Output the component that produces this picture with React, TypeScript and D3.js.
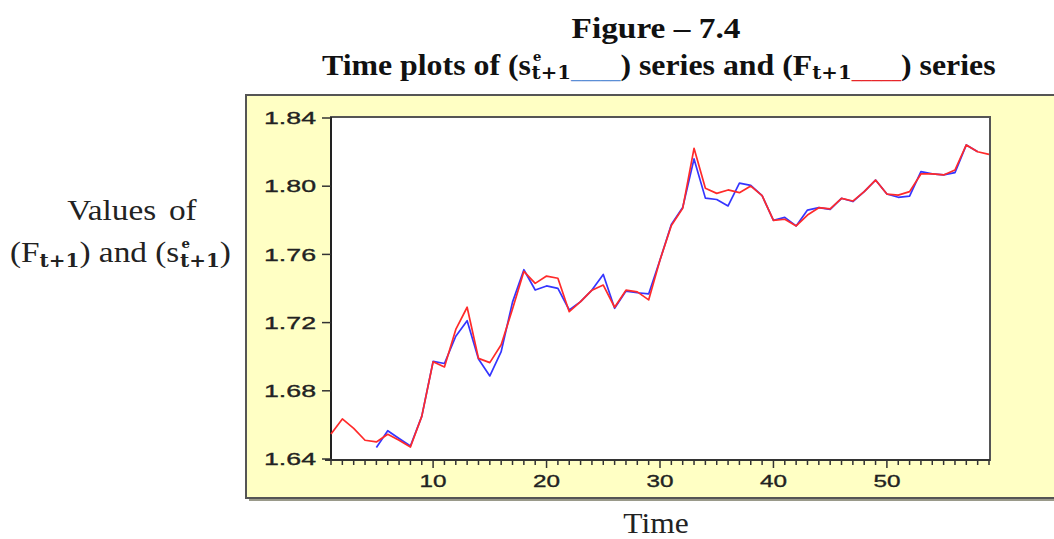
import React from "react";
import * as d3 from "d3";

const obs: number[] = d3.range(1, 60);
const forwardF: number[] = [
  1.6547, 1.6635, 1.658, 1.651, 1.65, 1.6545, 1.651, 1.647, 1.665, 1.697,
  1.694, 1.716, 1.729, 1.699, 1.6965, 1.707, 1.728, 1.75, 1.743, 1.7473,
  1.746, 1.7264, 1.7323, 1.739, 1.742, 1.729, 1.739, 1.738, 1.7333, 1.7567,
  1.777, 1.787, 1.8222, 1.7988, 1.7958, 1.7978, 1.7962, 1.8001, 1.7945, 1.78,
  1.7806, 1.7767, 1.7831, 1.7874, 1.7867, 1.7929, 1.7913, 1.7968, 1.8036, 1.7954,
  1.7948, 1.7968, 1.8072, 1.8072, 1.8066, 1.8095, 1.8242, 1.8202, 1.8187,
];
const spotStart = 5;
const spotS: number[] = [
  1.6467, 1.6566, 1.652, 1.6476, 1.665, 1.6973, 1.696, 1.712, 1.7211, 1.6987,
  1.6887, 1.703, 1.732, 1.751, 1.7391, 1.7415, 1.7401, 1.7274, 1.7323, 1.7391,
  1.7482, 1.7284, 1.7385, 1.7375, 1.7368, 1.7567, 1.7776, 1.7875, 1.816, 1.793,
  1.7922, 1.7884, 1.8018, 1.8005, 1.7945, 1.78, 1.7817, 1.7767, 1.786, 1.7874,
  1.7864, 1.7929, 1.791, 1.7968, 1.8036, 1.7954, 1.7935, 1.7942, 1.8085, 1.8072,
  1.8066, 1.808, 1.8242, 1.8202,
];
const yTicks: number[] = [1.64, 1.68, 1.72, 1.76, 1.8, 1.84];
const xMajorTicks: number[] = [10, 20, 30, 40, 50];

const W = 1054;
const H = 539;
const plot = { left: 331, right: 989, top: 118, bottom: 459 };

const stretch = (cx: number, s: number) => `translate(${cx},0) scale(${s},1) translate(${-cx},0)`;

export default function App() {
  const x = d3.scaleLinear().domain([1, 59]).range([plot.left, plot.right]);
  const y = d3.scaleLinear().domain([1.64, 1.84]).range([plot.bottom, plot.top]);

  const line = d3
    .line<[number, number]>()
    .x((d) => x(d[0]))
    .y((d) => y(d[1]));

  const redPts: [number, number][] = forwardF.map((v, i) => [obs[i], v]);
  const bluePts: [number, number][] = spotS.map((v, i) => [spotStart + i, v]);

  const serif = "'Liberation Serif', 'Times New Roman', serif";
  const subFont = "'DejaVu Serif', serif";
  const sans = "'Liberation Sans', Arial, sans-serif";

  return (
    <svg
      width={W}
      height={H}
      style={{ position: "absolute", left: 0, top: 0, background: "#fff" }}
    >
      {/* yellow panel with shadow */}
      <rect x={249} y={98} width={900} height={403} fill="#9a9a8a" />
      <rect x={246} y={95} width={900} height={403} fill="#FFFFC4" stroke="#555" strokeWidth={2} />

      {/* plot area */}
      <rect
        x={plot.left}
        y={plot.top - 1}
        width={plot.right - plot.left + 1}
        height={plot.bottom - plot.top + 2}
        fill="#fff"
        stroke="#555"
        strokeWidth={2}
      />
      <line x1={plot.left} x2={plot.left} y1={plot.top - 1} y2={plot.bottom + 1} stroke="#222" strokeWidth={2} />
      <line x1={plot.left - 6} x2={plot.right + 1} y1={plot.bottom + 1} y2={plot.bottom + 1} stroke="#333" strokeWidth={2} />

      {/* y ticks */}
      {yTicks.map((t) => (
        <g key={t}>
          <line x1={plot.left - 9} x2={plot.left} y1={y(t)} y2={y(t)} stroke="#333" strokeWidth={1.5} />
          <text
            x={316}
            y={y(t)}
            dy="0.36em"
            textAnchor="end"
            fontFamily={sans}
            fontSize={17}
            fill="#222"
            stroke="#222"
            strokeWidth={0.35}
            textLength={52}
            lengthAdjust="spacingAndGlyphs"
          >
            {t.toFixed(2)}
          </text>
        </g>
      ))}

      {/* x ticks */}
      {obs.map((o) => (
        <line
          key={o}
          x1={x(o)}
          x2={x(o)}
          y1={plot.bottom + 1}
          y2={plot.bottom + (xMajorTicks.includes(o) ? 9 : 6)}
          stroke="#333"
          strokeWidth={1.5}
        />
      ))}
      {xMajorTicks.map((t) => (
        <text
          key={t}
          x={x(t)}
          y={487}
          textAnchor="middle"
          fontFamily={sans}
          fontSize={17}
          fill="#222"
          stroke="#222"
          strokeWidth={0.35}
          textLength={27}
          lengthAdjust="spacingAndGlyphs"
        >
          {t}
        </text>
      ))}

      {/* series */}
      <path d={line(bluePts) || ""} fill="none" stroke="#3535ff" strokeWidth={1.7} strokeLinejoin="round" />
      <path d={line(redPts) || ""} fill="none" stroke="#ff2a2a" strokeWidth={1.7} strokeLinejoin="round" />

      {/* titles */}
      <g transform={stretch(656, 1.15)}>
        <text x={656} y={38} textAnchor="middle" fontFamily={serif} fontWeight="bold" fontSize={29} fill="#111">
          Figure – 7.4
        </text>
      </g>
      <g transform={stretch(322, 1.098)}>
        <text x={322} y={75} fontFamily={serif} fontWeight="bold" fontSize={29} fill="#111">
          Time plots of (s
          <tspan fontFamily={subFont} fontSize={12} dy={-14} dx={2}>e</tspan>
          <tspan fontFamily={subFont} fontSize={18} dx={-9} dy={18}>t+1</tspan>
          <tspan fontFamily={serif} fontSize={18} fill="#5b8fd6">_____</tspan>
          <tspan dy={-4}>) series and (F</tspan>
          <tspan fontFamily={subFont} fontSize={18} dy={4}>t+1</tspan>
          <tspan fontFamily={serif} fontSize={18} fill="#e8252a">_____</tspan>
          <tspan dy={-4}>) series</tspan>
        </text>
      </g>

      {/* y-axis label */}
      <g transform={stretch(132, 1.11)}>
        <text x={132} y={220} textAnchor="middle" fontFamily={serif} fontSize={30} fill="#222" wordSpacing={4}>
          Values of
        </text>
      </g>
      <g transform={stretch(10, 1.11)}>
        <text x={10} y={262} fontFamily={serif} fontSize={30} fill="#222">
          (F
          <tspan fontFamily={subFont} fontSize={18} fontWeight="bold" dy={5}>t+1</tspan>
          <tspan dy={-5}>) and (s</tspan>
          <tspan fontFamily={subFont} fontSize={12} fontWeight="bold" dy={-14} dx={2}>e</tspan>
          <tspan fontFamily={subFont} fontSize={18} fontWeight="bold" dx={-9} dy={19}>t+1</tspan>
          <tspan dy={-5}>)</tspan>
        </text>
      </g>

      {/* x-axis label */}
      <g transform={stretch(656, 1.05)}>
        <text x={656} y={533} textAnchor="middle" fontFamily={serif} fontSize={30} fill="#222">
          Time
        </text>
      </g>
    </svg>
  );
}
